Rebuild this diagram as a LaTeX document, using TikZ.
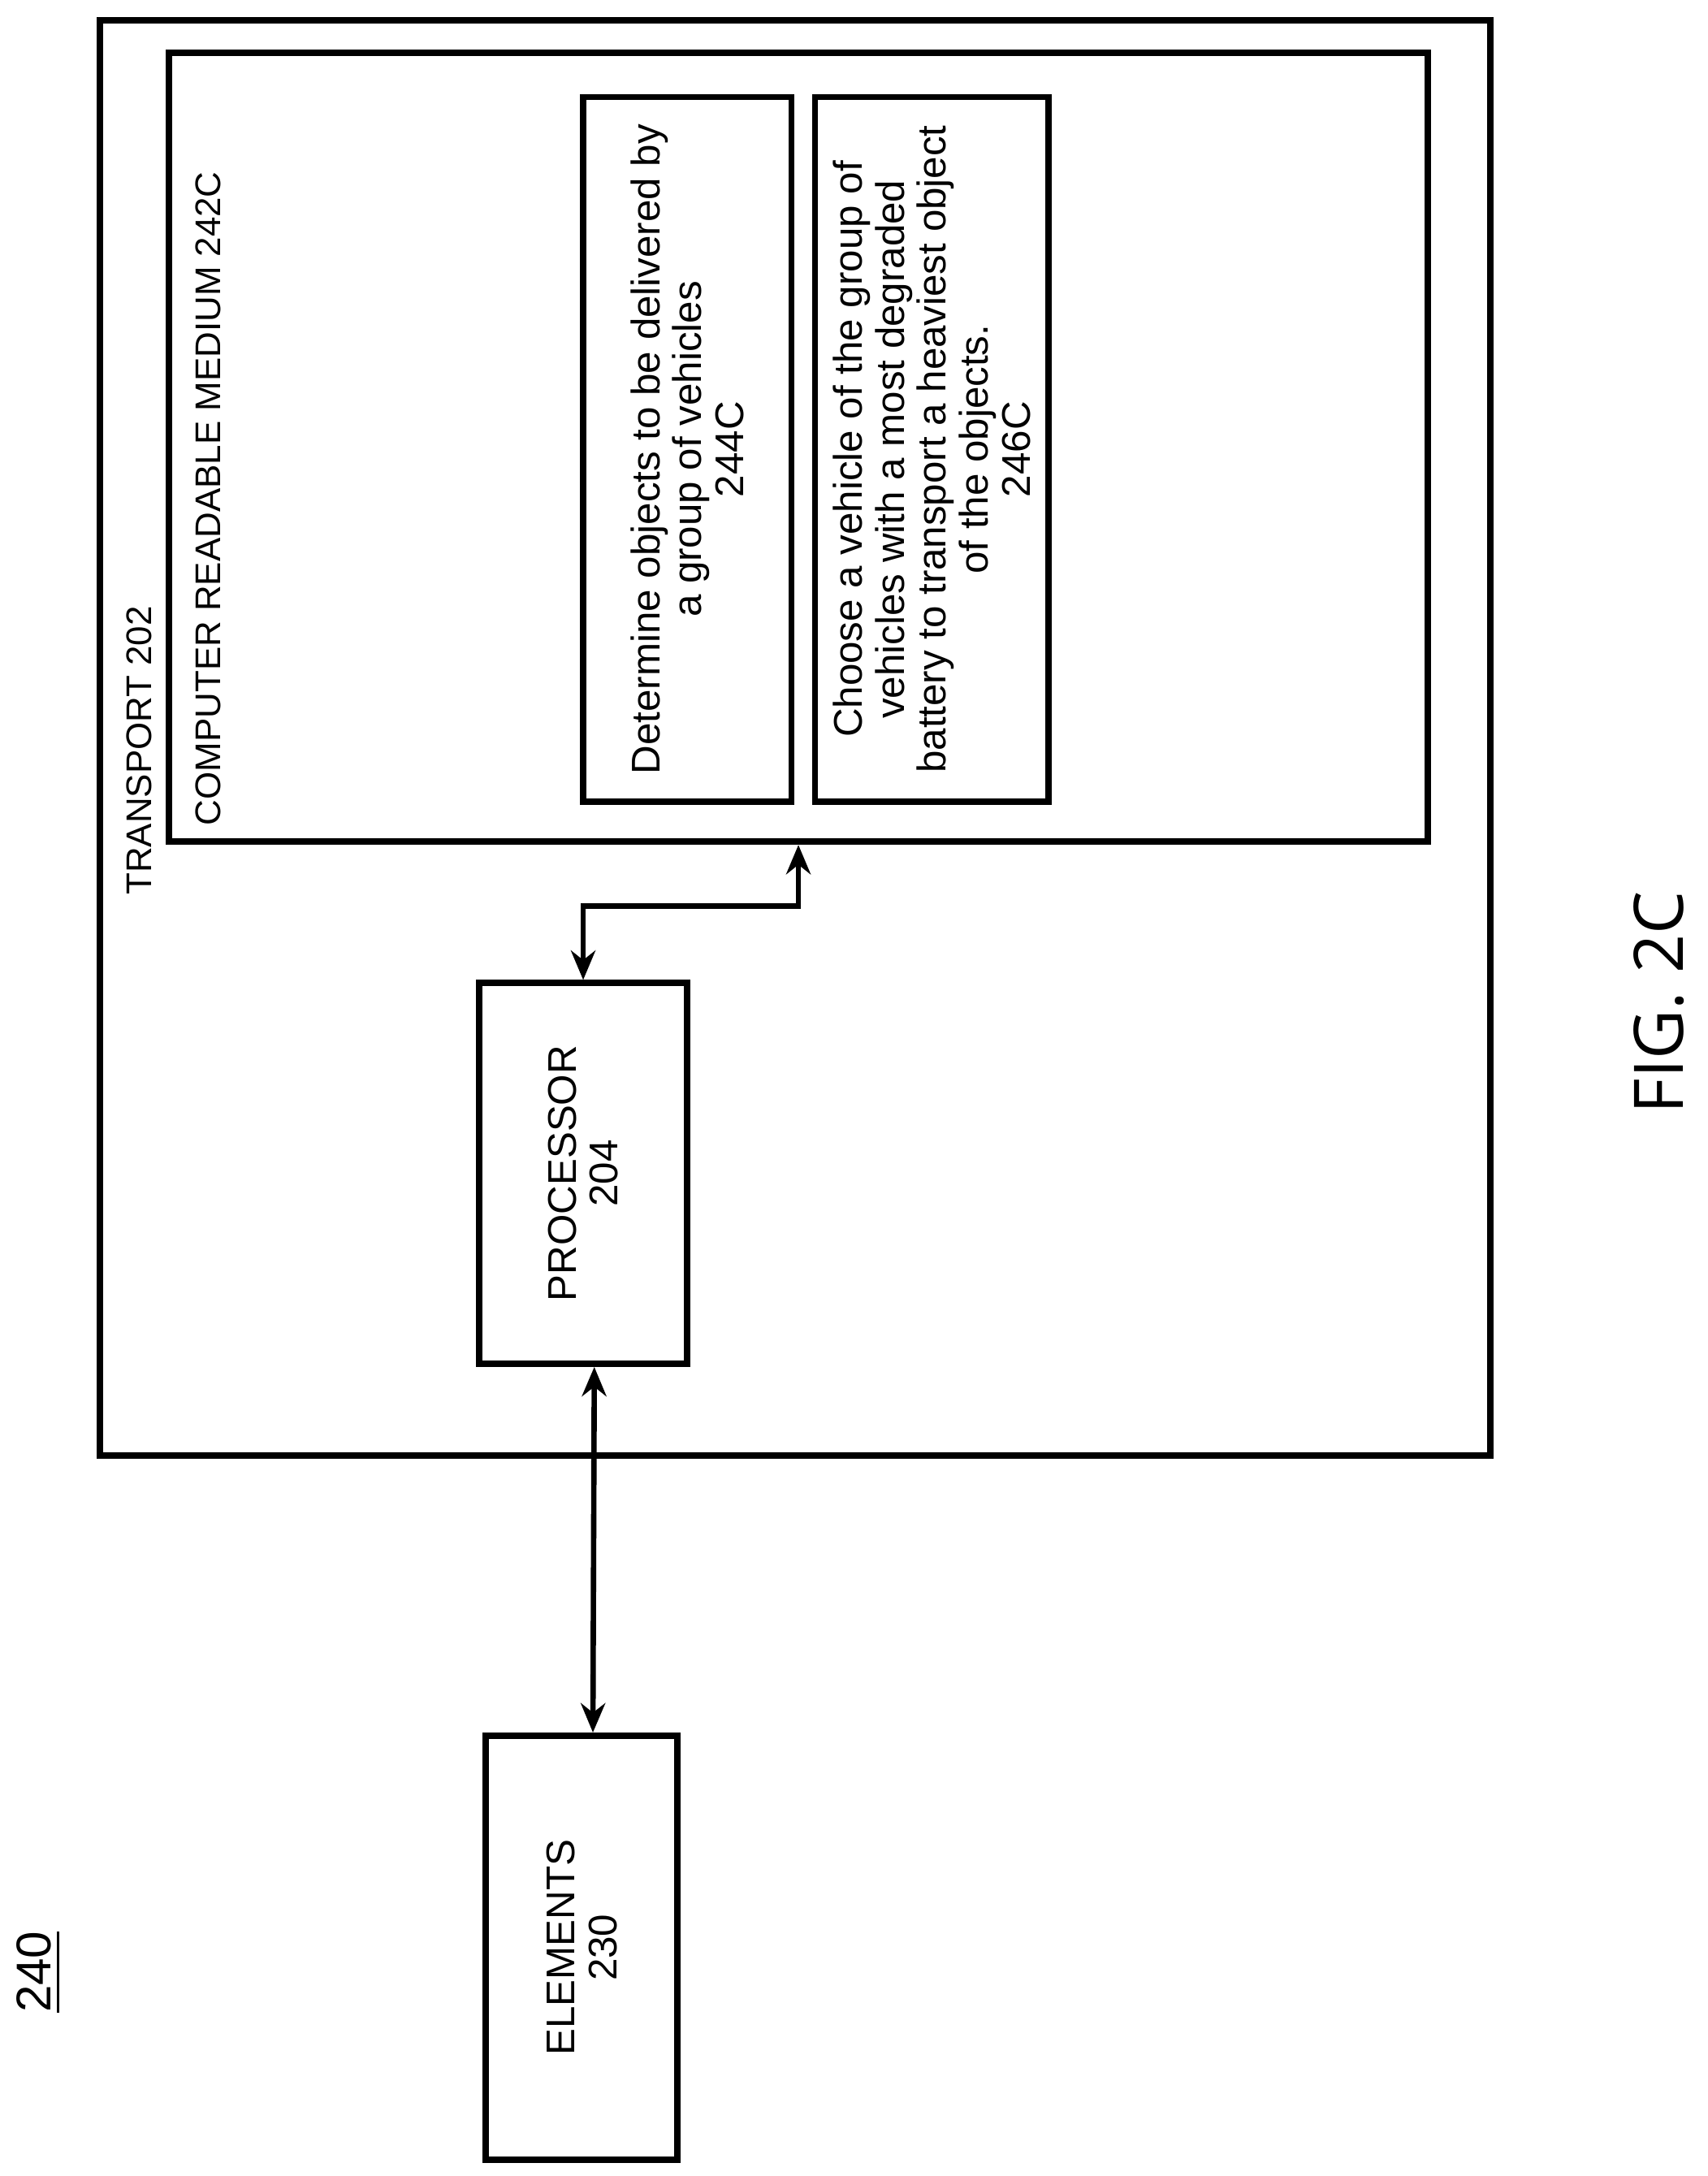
\documentclass[tikz,border=0pt]{standalone}
\usepackage{fontspec}
\setmainfont{Liberation Sans}
\newfontfamily\figfont{Open Sans}
\usetikzlibrary{arrows.meta}

\begin{document}
\begin{tikzpicture}[x=0.01cm,y=-0.01cm,
  box/.style={draw,line width=1.3pt,rotate=90,inner sep=0pt,align=center,
    font=\fontsize{8.2}{8.6}\selectfont},
  lbl/.style={rotate=90,inner sep=0pt,font=\fontsize{7.3}{8.6}\selectfont},
  link/.style={line width=1.1pt,{Stealth[length=6pt,width=5pt]}-{Stealth[length=6pt,width=5pt]}}]
\useasboundingbox (0,0) rectangle (1230,1567);

% outer and medium
\node[box,minimum width=10.33cm,minimum height=10.01cm] (trans) at (572.5,531.5) {};
\node[box,minimum width=5.68cm,minimum height=9.06cm] (crm) at (575,322) {};
\node[lbl,anchor=west] (tlbl) at (100,645) {TRANSPORT 202};
\node[lbl,anchor=west] (clbl) at (150,595) {COMPUTER READABLE MEDIUM 242C};

% steps
\node[box,minimum width=5.07cm,minimum height=1.5cm] (s244) at (495,323.5)
  {Determine objects to be delivered by\\a group of vehicles\\244C};
\node[box,minimum width=5.07cm,minimum height=1.68cm] (s246) at (671,323.5)
  {Choose a vehicle of the group of\\vehicles with a most degraded\\battery to transport a heaviest object\\of the objects.\\246C};

% processor and elements
\node[box,minimum width=2.74cm,minimum height=1.5cm] (proc) at (420,845) {PROCESSOR\\204};
\node[box,minimum width=3.05cm,minimum height=1.38cm] (elem) at (419,1402.5) {ELEMENTS\\230};

\draw[link] (proc.east) -- ++(0,-53) -| (crm.west);
\draw[link] ([xshift=0.08cm]proc.west) -- ([xshift=0.08cm]elem.east);

\node[rotate=90,font=\fontsize{10}{12}\selectfont] (num) at (28,1420) {\underline{240}};
\node[rotate=90,font=\figfont\fontsize{14}{16}\selectfont] (fig) at (1195,722) {FIG. 2C};
\end{tikzpicture}
\end{document}
